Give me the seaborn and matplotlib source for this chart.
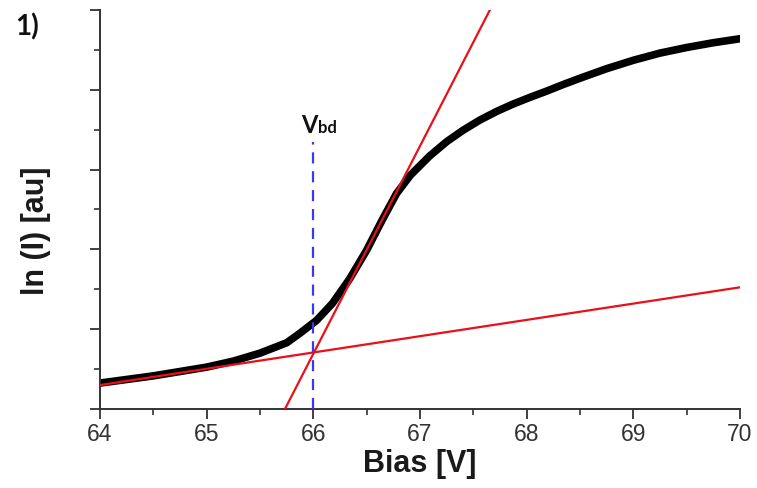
import matplotlib
matplotlib.use("Agg")
import matplotlib.pyplot as plt
import seaborn as sns
import numpy as np
import pandas as pd
from matplotlib.ticker import MultipleLocator, NullFormatter

# ---- data ----
bias = [64.0, 64.25, 64.5, 64.75, 65.0, 65.25, 65.5, 65.75, 65.875, 66.03,
        66.18, 66.34, 66.5, 66.65, 66.78, 66.91, 67.09, 67.25, 67.4, 67.56,
        67.72, 67.87, 68.03, 68.19, 68.34, 68.5, 68.75, 69.0, 69.25, 69.5,
        69.75, 70.0]
ln_i = [0.325, 0.37, 0.415, 0.47, 0.525, 0.60, 0.70, 0.83, 0.95, 1.11,
        1.325, 1.63, 1.99, 2.38, 2.70, 2.93, 3.17, 3.35, 3.49, 3.62,
        3.73, 3.82, 3.905, 3.985, 4.065, 4.145, 4.265, 4.37, 4.46, 4.53,
        4.59, 4.64]

steep_x = [65.734, 67.655]
steep_y = [0.0, 5.0]
shallow_x = [64.0, 70.0]
shallow_y = [0.30, 1.525]

vbd = 66.0
vbd_top = 3.34

x_ticks = [64, 65, 66, 67, 68, 69, 70]

df = pd.DataFrame({"Bias": bias, "lnI": ln_i})

sns.set_theme(style="ticks")
plt.rcParams["font.family"] = ["Liberation Sans", "DejaVu Sans"]

fig = plt.figure(figsize=(7.57, 4.88), dpi=100)
ax = fig.add_axes([100 / 757, 79 / 488, 640 / 757, 399 / 488])

sns.lineplot(data=df, x="Bias", y="lnI", ax=ax, color="black", lw=5.5,
             solid_capstyle="round", solid_joinstyle="round", zorder=2)
sns.lineplot(x=steep_x, y=steep_y, ax=ax, color="#e8101a", lw=1.6, zorder=3)
sns.lineplot(x=shallow_x, y=shallow_y, ax=ax, color="#e8101a", lw=1.6, zorder=3)
ax.vlines(vbd, 0, vbd_top, colors="#3a3ae8", linestyles=(0, (5, 3.5)), lw=1.6, zorder=4)

ax.set_xlim(64, 70)
ax.set_ylim(0, 5)
ax.set_xticks(x_ticks)
ax.set_xticklabels([str(t) for t in x_ticks])
ax.xaxis.set_minor_locator(MultipleLocator(0.5))
ax.yaxis.set_major_locator(MultipleLocator(1))
ax.yaxis.set_minor_locator(MultipleLocator(0.5))
ax.yaxis.set_major_formatter(NullFormatter())

for s in ["top", "right"]:
    ax.spines[s].set_visible(False)
for s in ["left", "bottom"]:
    ax.spines[s].set_color("#333333")
    ax.spines[s].set_linewidth(1.4)
ax.tick_params(which="major", direction="out", length=7, width=1.3, color="#333333",
               labelsize=16.5, labelcolor="#333333", pad=3)
ax.tick_params(which="minor", direction="out", length=4, width=1.2, color="#333333")

ax.set_xlabel("Bias [V]", fontsize=22, fontweight="bold", color="#1a1a1a", labelpad=2)
ax.set_ylabel("ln (I) [au]", fontsize=22, fontweight="bold", color="#1a1a1a")
ax.yaxis.set_label_coords(-0.076, 0.446)

# V_bd label
ax.text(vbd + 0.04, 3.46, "V", ha="right", va="baseline", fontsize=17,
        fontweight="bold", family=["Lato", "DejaVu Sans"], color="#111111")
ax.text(vbd + 0.04, 3.46, "bd", ha="left", va="baseline", fontsize=12,
        fontweight="bold", family=["Lato", "DejaVu Sans"], color="#111111")

fig.text(15 / 757, 1 - 35 / 488, "1)", fontsize=20, fontweight="bold",
         family=["Lato", "DejaVu Sans"], color="#111111")

fig.savefig("out.png", dpi=100, facecolor="white")
